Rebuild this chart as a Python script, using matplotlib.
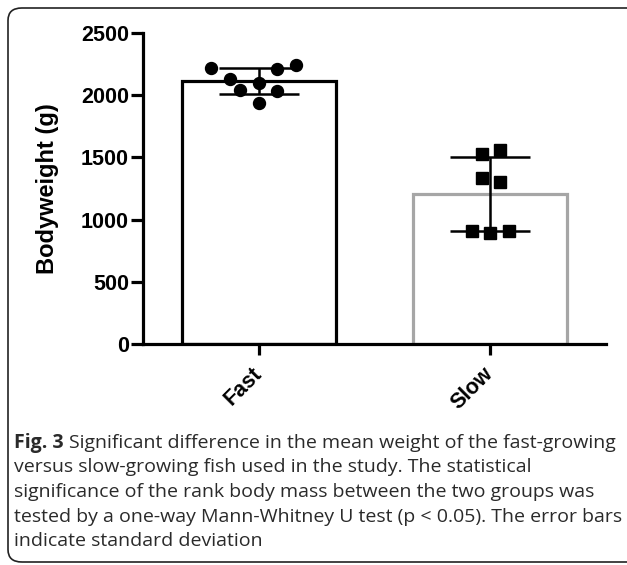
import numpy as np
import matplotlib
matplotlib.use('Agg')
import matplotlib.pyplot as plt
from matplotlib.patches import FancyBboxPatch

# groupes et poids individuels (g)
groupes = ['Fast', 'Slow']
poids_fast = [2216, 2208, 2243, 2128, 2100, 2042, 2036, 1940]
poids_slow = [1525, 1560, 1332, 1300, 908, 895, 908]
# decalage horizontal des points (disposition en essaim)
decal_fast = [-0.205, 0.077, 0.163, -0.126, 0.0, -0.082, 0.077, 0.0]
decal_slow = [-0.036, 0.040, -0.036, 0.040, -0.08, 0.0, 0.08]
yticks = [0, 500, 1000, 1500, 2000, 2500]

legende = ["versus slow-growing fish used in the study. The statistical",
           "significance of the rank body mass between the two groups was",
           "tested by a one-way Mann-Whitney U test (p < 0.05). The error bars",
           "indicate standard deviation"]

W, H = 627, 565
fig = plt.figure(figsize=(W/100, H/100), dpi=100)
ax = fig.add_axes([143/W, 1-344/H, 463/W, 311/H])

moyennes = [np.mean(poids_fast), np.mean(poids_slow)]
ecarts = [np.std(poids_fast, ddof=1), np.std(poids_slow, ddof=1)]
couleurs = ['black', '#a6a6a6']

x = np.arange(len(groupes))
ax.bar(x, moyennes, width=0.667, facecolor='white', edgecolor=couleurs, linewidth=2.3, zorder=1)
ax.errorbar(x, moyennes, yerr=ecarts, fmt='none', ecolor='black', elinewidth=1.8,
            capsize=29, capthick=1.8, zorder=2)

ax.plot(x[0] + np.array(decal_fast), poids_fast, 'o', color='black', markersize=8.6, zorder=3)
ax.plot(x[1] + np.array(decal_slow), poids_slow, 's', color='black', markersize=8.2, zorder=3)

ax.set_xlim(-0.5, 1.5)
ax.set_ylim(0, 2500)
ax.set_yticks(yticks)
ax.set_yticklabels([str(v) for v in yticks], fontfamily='Liberation Sans', fontweight='bold', fontsize=15.5)
ax.set_xticks(x)
ax.set_xticklabels(groupes, fontfamily='Liberation Sans', fontweight='bold', fontsize=15.5,
                   rotation=45, ha='right', va='center', rotation_mode='anchor')
ax.set_ylabel('Bodyweight (g)', fontfamily='Liberation Sans', fontweight='bold', fontsize=17, labelpad=16)

for s in ['top', 'right']:
    ax.spines[s].set_visible(False)
for s in ['left', 'bottom']:
    ax.spines[s].set_linewidth(2.3)
    ax.spines[s].set_capstyle('projecting')
ax.tick_params(axis='y', length=9, width=2.3, pad=1)
ax.tick_params(axis='x', length=8, width=2.3, pad=11)

# cadre arrondi
cadre = FancyBboxPatch((8/W, 1-562/H), 640/W, 554/H, boxstyle='round,pad=0,rounding_size=0.022',
                       transform=fig.transFigure, facecolor='none', edgecolor='#222222', linewidth=1.2)
fig.patches.append(cadre)

# legende de la figure
x0 = 14/W
fs = 14
y1 = 443
pas = 24.5
coul_txt = '#2a2a2a'
t = fig.text(x0, 1-y1/H, 'Fig. 3', fontfamily='Open Sans', fontweight='bold', fontsize=fs, va='center', color=coul_txt)
fig.canvas.draw()
bb = t.get_window_extent()
fig.text(bb.x1/W + 5/W, 1-y1/H, 'Significant difference in the mean weight of the fast-growing',
         fontfamily='Open Sans', fontsize=fs, va='center', color=coul_txt)
for i, ligne in enumerate(legende):
    fig.text(x0, 1-(y1 + pas*(i+1))/H, ligne, fontfamily='Open Sans', fontsize=fs, va='center', color=coul_txt)

fig.savefig('out.png', dpi=100)
